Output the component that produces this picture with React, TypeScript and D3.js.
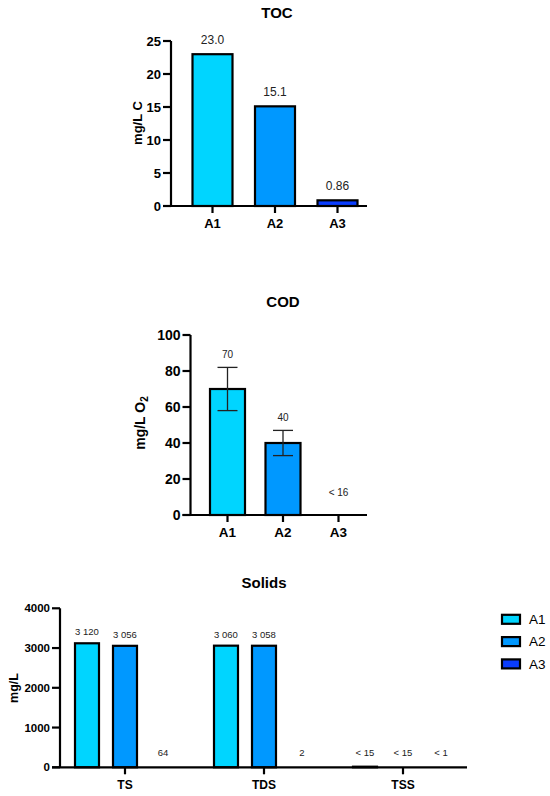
import React from 'react';
import * as d3 from 'd3';

// samples shared by all three panels
const samples = ['A1', 'A2', 'A3'];
const sampleColors = ['#00D5FF', '#0098FF', '#0A3DFF'];

// TOC panel
const tocValues = [23.0, 15.1, 0.86];
const tocLabels = ['23.0', '15.1', '0.86'];
const tocTicks = [0, 5, 10, 15, 20, 25];

// COD panel (A3 below detection limit, no bar)
const codValues: (number | null)[] = [70, 40, null];
const codErrors = [12, 7, 0];
const codLabels = ['70', '40', '< 16'];
const codTicks = [0, 20, 40, 60, 80, 100];

// Solids panel: one row per group, one entry per sample
const solidsGroups = ['TS', 'TDS', 'TSS'];
const solidsValues: (number | null)[][] = [
  [3120, 3056, null],
  [3060, 3058, null],
  [15, null, null],
];
const solidsLabels = [
  ['3 120', '3 056', '64'],
  ['3 060', '3 058', '2'],
  ['< 15', '< 15', '< 1'],
];
const solidsTicks = [0, 1000, 2000, 3000, 4000];

const FONT = "'Liberation Sans', Arial, Helvetica, sans-serif";

type YAxisProps = { y: d3.ScaleLinear<number, number>; x: number; ticks: number[]; fs: number };

const YAxis = ({ y, x, ticks, fs }: YAxisProps) => {
  const [lo, hi] = d3.extent(ticks) as [number, number];
  return (
    <g>
      <line x1={x} x2={x} y1={y(hi)} y2={y(lo)} stroke="#000" strokeWidth={2.2} />
      {ticks.map(t => (
        <g key={t}>
          <line x1={x - 8} x2={x} y1={y(t)} y2={y(t)} stroke="#000" strokeWidth={2.2} />
          <text x={x - 10} y={y(t)} dy="0.35em" textAnchor="end" fontSize={fs} fontWeight="bold" fontFamily={FONT}>
            {t}
          </text>
        </g>
      ))}
    </g>
  );
};

type XAxisProps = { x0: number; x1: number; y0: number; cats: string[]; pos: (c: string) => number; fs: number };

const XAxis = ({ x0, x1, y0, cats, pos, fs }: XAxisProps) => (
  <g>
    <line x1={x0 - 8} x2={x1} y1={y0} y2={y0} stroke="#000" strokeWidth={2.2} />
    {cats.map(c => (
      <g key={c}>
        <line x1={pos(c)} x2={pos(c)} y1={y0} y2={y0 + 7} stroke="#000" strokeWidth={2.2} />
        <text x={pos(c)} y={y0 + 17.5} dy="0.35em" textAnchor="middle" fontSize={fs} fontWeight="bold" fontFamily={FONT}>
          {c}
        </text>
      </g>
    ))}
  </g>
);

const TocPanel = () => {
  const y = d3.scaleLinear().domain([0, 25]).range([206, 41]);
  const x = d3.scalePoint<string>().domain(samples).range([212.5, 337.5]);
  const w = 40;
  return (
    <g>
      <text x={277} y={13} dy="0.35em" textAnchor="middle" fontSize={15} fontWeight="bold" fontFamily={FONT}>TOC</text>
      <text transform={`translate(137,123) rotate(-90)`} textAnchor="middle" dominantBaseline="central" fontSize={13} fontWeight="bold" fontFamily={FONT}>
        mg/L C
      </text>
      {samples.map((s, i) => (
        <g key={s}>
          <rect x={x(s)! - w / 2} y={y(tocValues[i])} width={w} height={y(0) - y(tocValues[i])}
            fill={sampleColors[i]} stroke="#000" strokeWidth={2.2} />
          <text x={x(s)!} y={y(tocValues[i]) - 10} textAnchor="middle" fontSize={12} fontFamily={FONT} fill="#222">
            {tocLabels[i]}
          </text>
        </g>
      ))}
      <YAxis y={y} x={171} ticks={tocTicks} fs={13} />
      <XAxis x0={171} x1={367} y0={y(0)} cats={samples} pos={c => x(c)!} fs={13} />
    </g>
  );
};

const CodPanel = () => {
  const y = d3.scaleLinear().domain([0, 100]).range([515, 335]);
  const x = d3.scalePoint<string>().domain(samples).range([227.5, 338.5]);
  const w = 35;
  return (
    <g>
      <text x={283} y={302} dy="0.35em" textAnchor="middle" fontSize={15} fontWeight="bold" fontFamily={FONT}>COD</text>
      <text transform={`translate(140,423) rotate(-90)`} textAnchor="middle" dominantBaseline="central" fontSize={14} fontWeight="bold" fontFamily={FONT}>
        mg/L O<tspan fontSize={10} dy={4}>2</tspan>
      </text>
      {samples.map((s, i) => {
        const v = codValues[i];
        const top = v == null ? 5.5 : v + codErrors[i];
        return (
          <g key={s}>
            {v != null && (
              <g>
                <rect x={x(s)! - w / 2} y={y(v)} width={w} height={y(0) - y(v)}
                  fill={sampleColors[i]} stroke="#000" strokeWidth={2.2} />
                <g stroke="#222" strokeWidth={1.3}>
                  <line x1={x(s)!} x2={x(s)!} y1={y(v - codErrors[i])} y2={y(v + codErrors[i])} />
                  <line x1={x(s)! - 10} x2={x(s)! + 10} y1={y(v + codErrors[i])} y2={y(v + codErrors[i])} />
                  <line x1={x(s)! - 10} x2={x(s)! + 10} y1={y(v - codErrors[i])} y2={y(v - codErrors[i])} />
                </g>
              </g>
            )}
            <text x={x(s)!} y={y(top) - 9} textAnchor="middle" fontSize={10} fontFamily={FONT} fill="#222">
              {codLabels[i]}
            </text>
          </g>
        );
      })}
      <YAxis y={y} x={190.5} ticks={codTicks} fs={14} />
      <XAxis x0={190.5} x1={367} y0={y(0)} cats={samples} pos={c => x(c)!} fs={13.5} />
    </g>
  );
};

const SolidsPanel = () => {
  const y = d3.scaleLinear().domain([0, 4000]).range([767.3, 608.3]);
  const x = d3.scalePoint<string>().domain(solidsGroups).range([125, 403]);
  const sub = d3.scalePoint<string>().domain(samples).range([-38, 38]);
  const w = 24;
  return (
    <g>
      <text x={264} y={583} dy="0.35em" textAnchor="middle" fontSize={15} fontWeight="bold" fontFamily={FONT}>Solids</text>
      <text transform={`translate(14,688) rotate(-90)`} textAnchor="middle" dominantBaseline="central" fontSize={12.5} fontWeight="bold" fontFamily={FONT}>
        mg/L
      </text>
      {solidsGroups.map((g, gi) => (
        <g key={g}>
          {samples.map((s, i) => {
            const v = solidsValues[gi][i];
            const cx = x(g)! + sub(s)!;
            return (
              <g key={s}>
                {v != null && (
                  <rect x={cx - w / 2} y={y(v)} width={w} height={y(0) - y(v)}
                    fill={sampleColors[i]} stroke="#000" strokeWidth={2.2} />
                )}
                <text x={cx} y={y(Math.max(v ?? 0, 90)) - 8} textAnchor="middle" fontSize={9.5} fontFamily={FONT} fill="#222">
                  {solidsLabels[gi][i]}
                </text>
              </g>
            );
          })}
        </g>
      ))}
      <YAxis y={y} x={60} ticks={solidsTicks} fs={11.5} />
      <XAxis x0={60} x1={467} y0={y(0)} cats={solidsGroups} pos={c => x(c)!} fs={12} />
      {samples.map((s, i) => (
        <g key={s} transform={`translate(502,${619.3 + i * 22.3})`}>
          <rect x={0} y={-4.5} width={18} height={9} fill={sampleColors[i]} stroke="#000" strokeWidth={2.2} />
          <text x={27} y={0} dy="0.35em" fontSize={13.5} fontFamily={FONT}>{s}</text>
        </g>
      ))}
    </g>
  );
};

export default function App() {
  return (
    <svg width={550} height={796} style={{ position: 'absolute', left: 0, top: 0, background: '#fff' }}>
      <rect width={550} height={796} fill="#fff" />
      <TocPanel />
      <CodPanel />
      <SolidsPanel />
    </svg>
  );
}
